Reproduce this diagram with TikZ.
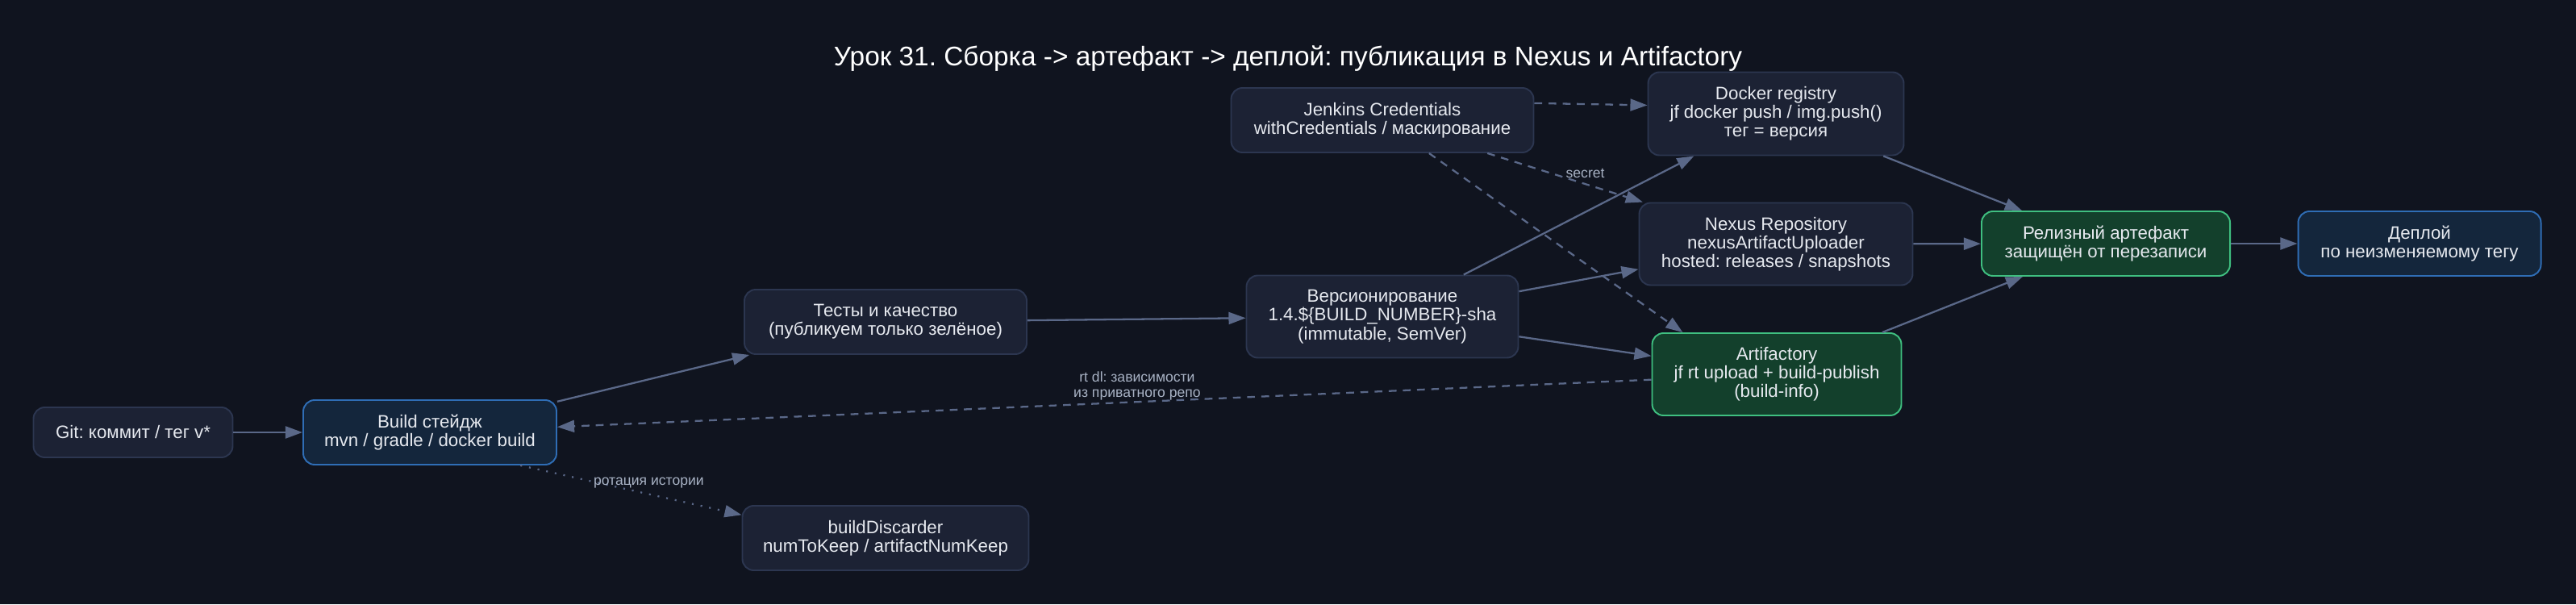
\documentclass[tikz,border=0pt]{standalone}
\usepackage{fontspec}
\setmainfont{Liberation Sans}
\usetikzlibrary{arrows.meta,calc}
\frenchspacing
\definecolor{bgpage}{HTML}{10141F}
\definecolor{boxfill}{HTML}{1C2234}
\definecolor{boxline}{HTML}{2C3650}
\definecolor{bluefill}{HTML}{14263C}
\definecolor{blueline}{HTML}{2F6DB5}
\definecolor{greenfill}{HTML}{13402C}
\definecolor{greenline}{HTML}{3FBF80}
\definecolor{edgecol}{HTML}{5A6888}
\definecolor{nodetext}{HTML}{E6E9EF}
\definecolor{labeltext}{HTML}{A8B2C4}
\begin{document}
\begin{tikzpicture}[every node/.style={align=center, text=nodetext, font=\fontsize{12.7}{13.2}\selectfont},
  box/.style={draw=boxline, fill=boxfill, rounded corners=8pt, line width=1.1pt, inner sep=0pt},
  bluebox/.style={box, draw=blueline, fill=bluefill},
  greenbox/.style={box, draw=greenline, fill=greenfill},
  flow/.style={draw=edgecol, line width=1.3pt, -{Triangle[length=12pt,width=8.5pt]}},
  dashflow/.style={flow, dash pattern=on 5.5pt off 4.5pt},
  dotflow/.style={flow, dash pattern=on 1.2pt off 5pt},
  elabel/.style={font=\fontsize{10}{10.8}\selectfont, text=labeltext}]
\fill[bgpage] (0,0) rectangle (63.88,14.98);
\useasboundingbox (0,0) rectangle (63.88,14.98);

\node[font=\fontsize{19}{22}\selectfont, text=white] at (31.94,13.52) (title) {Урок 31. Сборка -> артефакт -> деплой: публикация в Nexus и Artifactory};

\node[box, minimum width=4.94cm, minimum height=1.24cm] at (3.30,4.26) (git) {Git: коммит / тег v*};
\node[bluebox, minimum width=6.28cm, minimum height=1.6cm] at (10.66,4.26) (build) {Build стейдж\\mvn / gradle / docker build};
\node[box, minimum width=7.0cm, minimum height=1.6cm] at (21.96,7.00) (tests) {Тесты и качество\\(публикуем только зелёное)};
\node[box, minimum width=7.1cm, minimum height=1.6cm] at (21.96,1.64) (discarder) {buildDiscarder\\numToKeep / artifactNumKeep};
\node[box, minimum width=6.74cm, minimum height=2.04cm] at (34.28,7.13) (version) {Версионирование\\1.4.\$\{BUILD\_NUMBER\}-sha\\(immutable, SemVer)};
\node[box, minimum width=7.5cm, minimum height=1.6cm] at (34.28,12.00) (jenkins) {Jenkins Credentials\\withCredentials / маскирование};
\node[box, minimum width=6.34cm, minimum height=2.06cm] at (44.04,12.16) (docker) {Docker registry\\jf docker push / img.push()\\тег = версия};
\node[box, minimum width=6.78cm, minimum height=2.04cm] at (44.04,8.93) (nexus) {Nexus Repository\\nexusArtifactUploader\\hosted: releases / snapshots};
\node[greenbox, minimum width=6.18cm, minimum height=2.04cm] at (44.06,5.70) (artifactory) {Artifactory\\jf rt upload + build-publish\\(build-info)};
\node[greenbox, minimum width=6.16cm, minimum height=1.6cm] at (52.22,8.94) (release) {Релизный артефакт\\защищён от перезаписи};
\node[bluebox, minimum width=6.02cm, minimum height=1.6cm] at (60.00,8.94) (deploy) {Деплой\\по неизменяемому тегу};

\draw[flow] (git) -- (build);
\draw[flow] (build) -- (tests);
\draw[dotflow] ([xshift=-26pt]build.south east) -- node[elabel, pos=0.58, above] {ротация истории} ([yshift=-7pt]discarder.north west);
\draw[flow] (tests) -- (version);
\draw[flow] (version) -- (docker);
\draw[flow] (version) -- (nexus);
\draw[flow] (version) -- (artifactory);
\draw[dashflow] ([yshift=12pt]jenkins.east) -- ([yshift=6pt]docker.west);
\draw[dashflow] (jenkins) -- node[elabel, pos=0.63, above] {secret} (nexus);
\draw[dashflow] (jenkins) -- ($(artifactory.north west)!0.25!(artifactory.north)$);
\draw[flow] (docker) -- (release);
\draw[flow] (nexus) -- (release);
\draw[flow] (artifactory) -- (release);
\draw[flow] (release) -- (deploy);
\draw[dashflow] (artifactory) -- node[elabel, pos=0.47, yshift=11pt] {rt dl: зависимости\\из приватного репо} (build);
\end{tikzpicture}
\end{document}
